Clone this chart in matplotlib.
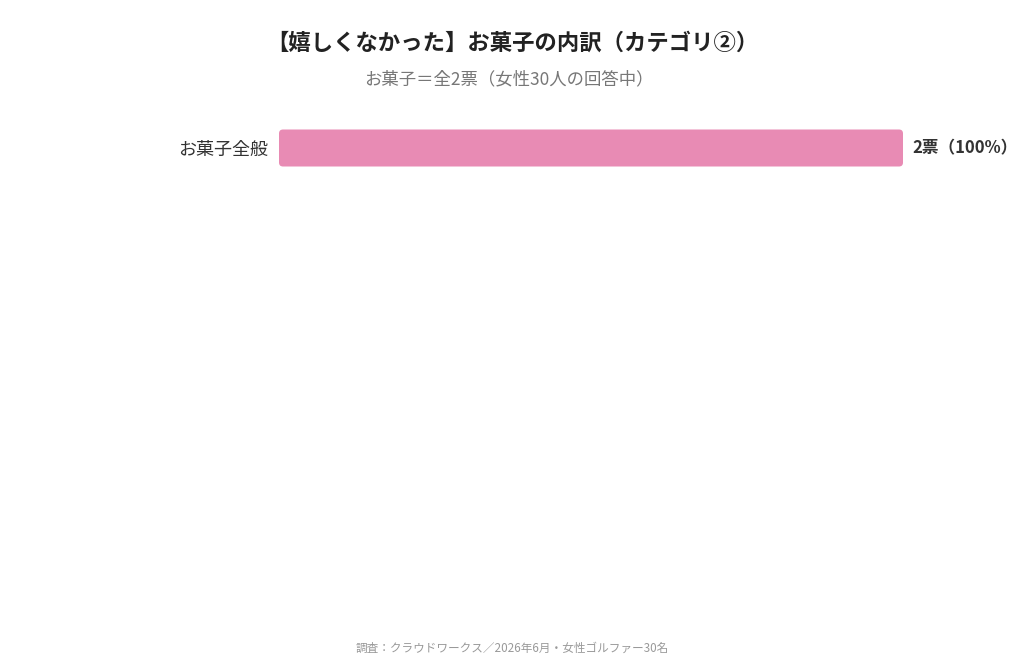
import matplotlib
matplotlib.use('Agg')
import matplotlib.pyplot as plt
from matplotlib.patches import FancyBboxPatch

plt.rcParams['font.family'] = ['Noto Sans CJK JP', 'DejaVu Sans']

# data
categories = ['お菓子全般']
votes = [2]
percents = [100]
total_votes = 2

title = '【嬉しくなかった】お菓子の内訳（カテゴリ②）'
subtitle = 'お菓子＝全2票（女性30人の回答中）'
footer = '調査：クラウドワークス／2026年6月・女性ゴルファー30名'

bar_color = '#E88BB4'

fig = plt.figure(figsize=(10.24, 6.70), dpi=100)
W, H = 1024, 670
left, right, top, bottom = 279, 903, 123, 623
ax = fig.add_axes([left / W, 1 - bottom / H, (right - left) / W, (bottom - top) / H])

ypos = list(range(len(categories)))
bars = ax.barh(ypos, votes, height=0.74, color=bar_color)
ax.set_xlim(0, total_votes)
ax.set_ylim(9.5, -0.5)

# swap plain bars for rounded ones
px_x = (right - left) / total_votes
px_y = (bottom - top) / 10
for b in bars:
    x0, y0 = b.get_x(), b.get_y()
    w, h = b.get_width(), b.get_height()
    b.set_visible(False)
    r = 4 / px_x
    patch = FancyBboxPatch((x0, y0), w, h,
                           boxstyle=f'round,pad=0,rounding_size={r}',
                           mutation_aspect=px_x / px_y,
                           facecolor=bar_color, edgecolor='none')
    ax.add_patch(patch)

for i, (v, p) in enumerate(zip(votes, percents)):
    ax.text(v + 9 / px_x, i, f'{v}票（{p}%）', va='center', ha='left',
            fontsize=12, fontweight='bold', color='#333333', clip_on=False)

ax.set_yticks(ypos)
ax.set_yticklabels(categories, fontsize=13, color='#333333')
ax.tick_params(axis='y', length=0, pad=8)
ax.set_xticks([])
for s in ax.spines.values():
    s.set_visible(False)

fig.text(0.5, 1 - 43 / H, title, ha='center', va='center',
         fontsize=16.1, fontweight='bold', color='#222222')
fig.text(0.497, 1 - 79 / H, subtitle, ha='center', va='center',
         fontsize=12.5, color='#777777')
fig.text(0.5, 1 - 648 / H, footer, ha='center', va='center',
         fontsize=8.4, color='#999999')

fig.savefig('out.png', dpi=100, facecolor='white')
